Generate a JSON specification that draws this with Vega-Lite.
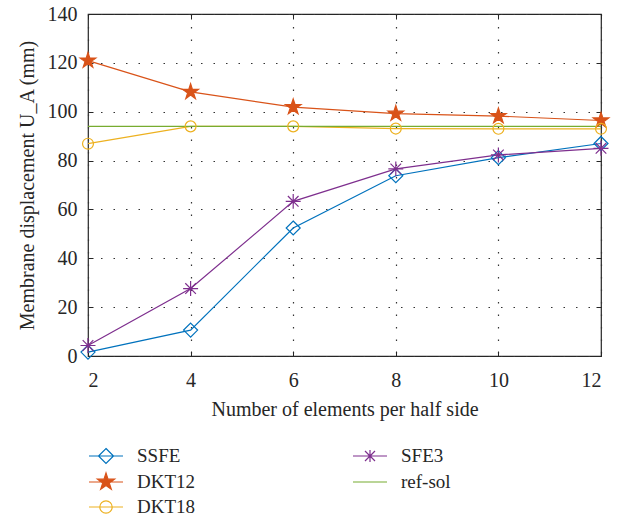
{
  "$schema": "https://vega.github.io/schema/vega-lite/v6.json",
  "width": 513,
  "height": 342,
  "autosize": "none",
  "padding": {"left": 88, "top": 14, "right": 20, "bottom": 165},
  "config": {
    "font": "Liberation Serif",
    "view": {"stroke": "#262626", "strokeWidth": 1.2},
    "axis": {"labelFont": "Liberation Serif", "titleFont": "Liberation Serif", "labelFontSize": 20, "titleFontSize": 20, "labelColor": "#262626", "titleColor": "#262626", "titleFontWeight": "normal", "domain": false, "tickColor": "#262626", "tickWidth": 1},
    "legend": {"labelFont": "Liberation Serif", "labelFontSize": 19, "labelColor": "#262626"},
    "point": {"filled": false, "size": 196, "strokeWidth": 1.2, "opacity": 1}
  },
  "data": {"values": [
    {"n": 2, "series": "SSFE", "u": 1.6}, {"n": 4, "series": "SSFE", "u": 10.6}, {"n": 6, "series": "SSFE", "u": 52.4}, {"n": 8, "series": "SSFE", "u": 73.8}, {"n": 10, "series": "SSFE", "u": 81.2}, {"n": 12, "series": "SSFE", "u": 87.0},
    {"n": 2, "series": "DKT12", "u": 120.9}, {"n": 4, "series": "DKT12", "u": 108.1}, {"n": 6, "series": "DKT12", "u": 101.9}, {"n": 8, "series": "DKT12", "u": 99.2}, {"n": 10, "series": "DKT12", "u": 98.2}, {"n": 12, "series": "DKT12", "u": 96.4},
    {"n": 2, "series": "DKT18", "u": 86.9}, {"n": 4, "series": "DKT18", "u": 94.0}, {"n": 6, "series": "DKT18", "u": 94.0}, {"n": 8, "series": "DKT18", "u": 93.1}, {"n": 10, "series": "DKT18", "u": 93.0}, {"n": 12, "series": "DKT18", "u": 93.0},
    {"n": 2, "series": "SFE3", "u": 4.3}, {"n": 4, "series": "SFE3", "u": 27.6}, {"n": 6, "series": "SFE3", "u": 63.3}, {"n": 8, "series": "SFE3", "u": 76.6}, {"n": 10, "series": "SFE3", "u": 82.3}, {"n": 12, "series": "SFE3", "u": 85.0},
    {"n": 2, "series": "ref-sol", "u": 94.0}, {"n": 12, "series": "ref-sol", "u": 94.0}
  ]},
  "layer": [
    {
      "mark": {"type": "line", "strokeWidth": 1.2},
      "encoding": {
        "x": {"field": "n", "type": "quantitative", "scale": {"domain": [2, 12], "nice": false, "zero": false},
              "axis": {"values": [2, 4, 6, 8, 10, 12], "title": "Number of elements per half side", "grid": true, "gridDash": [1.5, 11], "gridColor": "#333", "gridWidth": 1.2, "tickSize": -5, "labelPadding": 19, "titlePadding": 9}},
        "y": {"field": "u", "type": "quantitative", "scale": {"domain": [0, 140], "nice": false},
              "axis": {"values": [0, 20, 40, 60, 80, 100, 120, 140], "title": "Membrane displacement U_A (mm)", "grid": true, "gridDash": [1.5, 11], "gridColor": "#333", "gridWidth": 1.2, "tickSize": -5, "labelPadding": 16, "titlePadding": 10}},
        "color": {"field": "series", "type": "nominal",
                  "scale": {"domain": ["SSFE", "DKT12", "DKT18", "SFE3", "ref-sol"], "range": ["#0072BD", "#D95319", "#EDB120", "#7E2F8E", "#77AC30"]},
                  "legend": {"title": null, "orient": "none", "legendX": 7, "legendY": 431, "columns": 2, "direction": "vertical", "symbolSize": 400, "symbolStrokeWidth": 1.2, "labelOffset": 20, "rowPadding": 4, "columnPadding": 154,
                    "encode": {"symbols": {"update": {
                      "shape": {"signal": "datum.value === 'SSFE' ? 'M-1.7,0H1.7M0,-0.75L0.75,0L0,0.75L-0.75,0Z' : datum.value === 'DKT12' ? 'M-1.7,0H1.7M0,-0.9L0.202,-0.278L0.856,-0.278L0.327,0.106L0.529,0.728L0,0.344L-0.529,0.728L-0.327,0.106L-0.856,-0.278L-0.202,-0.278Z' : datum.value === 'DKT18' ? 'M-1.7,0H1.7M0.62,0A0.62,0.62 0 1,1 -0.62,0A0.62,0.62 0 1,1 0.62,0Z' : datum.value === 'SFE3' ? 'M-1.7,0H1.7M0,-0.6V0.6M-0.5,-0.5L0.5,0.5M-0.5,0.5L0.5,-0.5' : 'M-1.7,0H1.7'"},
                      "fill": {"signal": "datum.value === 'DKT12' ? '#D95319' : 'transparent'"},
                      "stroke": {"signal": "scale('color', datum.value)"},
                      "strokeWidth": {"value": 1.2},
                      "opacity": {"value": 1}
                    }}}}}
      }
    },
    {
      "transform": [{"filter": "datum.series === 'SSFE'"}],
      "mark": {"type": "point", "shape": "M0,-1L1,0L0,1L-1,0Z", "color": "#0072BD"},
      "encoding": {
        "x": {"field": "n", "type": "quantitative", "axis": {"orient": "top", "values": [2, 4, 6, 8, 10, 12], "labels": false, "title": null, "grid": false, "tickSize": -5}},
        "y": {"field": "u", "type": "quantitative", "axis": {"orient": "right", "values": [0, 20, 40, 60, 80, 100, 120, 140], "labels": false, "title": null, "grid": false, "tickSize": -5}}
      }
    },
    {
      "transform": [{"filter": "datum.series === 'DKT12'"}],
      "mark": {"type": "point", "shape": "M0,-1.17L0.263,-0.362L1.113,-0.362L0.425,0.138L0.688,0.947L0,0.447L-0.688,0.947L-0.425,0.138L-1.113,-0.362L-0.263,-0.362Z", "stroke": "#D95319", "fill": "#D95319", "filled": true},
      "encoding": {
        "x": {"field": "n", "type": "quantitative", "axis": null},
        "y": {"field": "u", "type": "quantitative", "axis": null}
      }
    },
    {
      "transform": [{"filter": "datum.series === 'DKT18'"}],
      "mark": {"type": "point", "shape": "M0.78,0A0.78,0.78 0 1,1 -0.78,0A0.78,0.78 0 1,1 0.78,0Z", "color": "#EDB120"},
      "encoding": {
        "x": {"field": "n", "type": "quantitative", "axis": null},
        "y": {"field": "u", "type": "quantitative", "axis": null}
      }
    },
    {
      "transform": [{"filter": "datum.series === 'SFE3'"}],
      "mark": {"type": "point", "shape": "M-1.07,0H1.07M0,-1.07V1.07M-0.76,-0.76L0.76,0.76M-0.76,0.76L0.76,-0.76", "color": "#7E2F8E"},
      "encoding": {
        "x": {"field": "n", "type": "quantitative", "axis": null},
        "y": {"field": "u", "type": "quantitative", "axis": null}
      }
    }
  ],
  "resolve": {"axis": {"x": "independent", "y": "independent"}}
}
